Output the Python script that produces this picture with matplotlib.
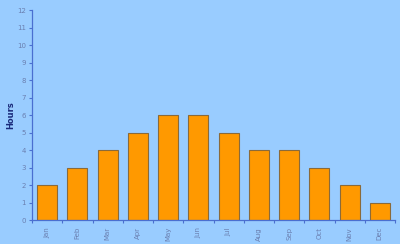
import matplotlib.pyplot as plt
import numpy as np

months = ["Jan", "Feb", "Mar", "Apr", "May", "Jun", "Jul", "Aug", "Sep", "Oct", "Nov", "Dec"]
hours = [2, 3, 4, 5, 6, 6, 5, 4, 4, 3, 2, 1]

bg = "#99ccff"
axis_col = "#4a6fd0"
label_col = "#6a7fb0"

fig = plt.figure(figsize=(4, 2.44), dpi=100, facecolor=bg)
ax = fig.add_axes([0.08, 0.098, 0.9075, 0.861], facecolor=bg)

x = np.arange(len(months))
ax.bar(x, hours, width=0.66, color="#ff9900", edgecolor="#8a6a3a", linewidth=0.8, zorder=2)

ax.set_xlim(-0.5, len(months) - 0.5)
ax.set_ylim(0, 12)
ax.set_yticks(range(0, 13))
ax.tick_params(axis="y", labelsize=5, colors=axis_col, labelcolor=label_col, length=2.5, width=0.8, pad=2)

# month labels centred under bars, tick marks at category boundaries
ax.set_xticks(x)
ax.set_xticklabels(months, rotation=90, fontsize=5, color=label_col)
ax.tick_params(axis="x", length=0, pad=5)
ax.set_xticks(np.arange(-0.5, len(months) + 0.5), minor=True)
ax.tick_params(axis="x", which="minor", length=2.5, width=0.8, colors=axis_col)

for side in ["top", "right"]:
    ax.spines[side].set_visible(False)
for side in ["left", "bottom"]:
    ax.spines[side].set_color(axis_col)
    ax.spines[side].set_linewidth(0.9)

ax.set_ylabel("Hours", fontsize=6, fontweight="bold", color="#1a2a7a")
ax.yaxis.set_label_coords(-0.047, 0.5)

fig.savefig("out.png", dpi=100, facecolor=bg)
